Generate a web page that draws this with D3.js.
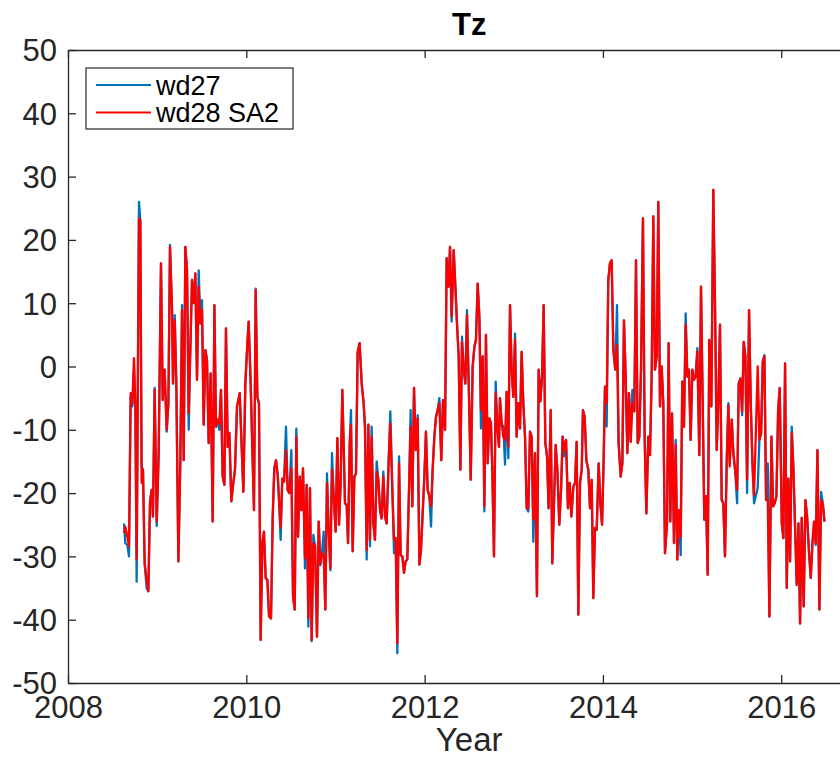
<!DOCTYPE html>
<html>
<head>
<meta charset="utf-8">
<script src="https://cdn.jsdelivr.net/npm/d3@7"></script>
<style>
  html, body { margin: 0; padding: 0; background: #fff; }
  svg { display: block; font-family: "Liberation Sans", Arial, Helvetica, sans-serif; }
</style>
</head>
<body>
<svg id="chart" width="840" height="757"></svg>
<script>
// Sample times (decimal year)
const years = [
  2008.628,2008.643,2008.666,2008.684,2008.703,2008.722,2008.740,2008.755,2008.770,2008.796,
  2008.811,2008.826,2008.841,2008.860,2008.882,2008.901,2008.920,2008.939,2008.953,2008.972,
  2008.995,2009.017,2009.043,2009.062,2009.084,2009.107,2009.126,2009.144,2009.167,2009.178,
  2009.197,2009.215,2009.238,2009.260,2009.279,2009.298,2009.316,2009.335,2009.354,2009.372,
  2009.391,2009.410,2009.428,2009.447,2009.466,2009.484,2009.503,2009.522,2009.541,2009.559,
  2009.578,2009.600,2009.623,2009.642,2009.660,2009.679,2009.698,2009.716,2009.735,2009.754,
  2009.772,2009.791,2009.810,
  2009.832,2009.854,2009.873,2009.896,2009.926,2009.948,2009.967,2009.989,2010.008,2010.026,
  2010.049,2010.068,2010.086,2010.105,2010.124,2010.142,2010.161,2010.180,2010.198,2010.217,
  2010.236,2010.255,2010.277,2010.296,2010.314,2010.333,2010.352,2010.367,2010.385,2010.404,
  2010.423,2010.445,2010.464,2010.483,2010.505,2010.524,2010.543,2010.561,2010.580,2010.599,
  2010.617,2010.636,2010.658,2010.677,2010.696,2010.714,2010.733,2010.752,2010.771,2010.793,
  2010.812,2010.830,2010.849,2010.868,2010.886,2010.905,2010.924,2010.943,2010.961,2010.980,
  2011.002,2011.021,2011.040,2011.058,2011.077,2011.096,2011.107,2011.126,2011.141,2011.160,
  2011.174,2011.193,2011.212,
  2011.230,2011.249,2011.271,2011.294,2011.316,2011.331,2011.350,2011.369,2011.387,2011.406,
  2011.425,2011.443,2011.462,2011.481,2011.500,2011.518,2011.537,2011.556,2011.574,2011.597,
  2011.615,2011.638,2011.657,2011.675,2011.694,2011.713,2011.731,2011.750,2011.769,2011.787,
  2011.806,2011.825,2011.843,2011.862,2011.881,2011.900,2011.922,2011.941,2011.959,2011.978,
  2011.997,2012.015,2012.034,2012.053,2012.072,2012.090,2012.109,2012.128,2012.146,2012.165,
  2012.187,2012.206,2012.229,2012.247,2012.266,2012.285,2012.303,2012.326,2012.345,2012.363,
  2012.382,2012.401,2012.419,2012.438,2012.457,2012.475,2012.498,2012.517,2012.539,2012.558,
  2012.576,2012.595,2012.614,
  2012.632,2012.651,2012.670,2012.688,2012.707,2012.726,2012.744,2012.759,2012.778,2012.797,
  2012.816,2012.834,2012.845,2012.864,2012.883,2012.902,2012.920,2012.939,2012.958,2012.976,
  2012.995,2013.014,2013.032,2013.051,2013.070,2013.088,2013.107,2013.126,2013.145,2013.163,
  2013.182,2013.201,2013.219,2013.238,2013.260,2013.279,2013.298,2013.317,2013.335,2013.354,
  2013.373,2013.391,2013.414,2013.432,2013.451,2013.470,2013.489,2013.511,2013.530,2013.548,
  2013.567,2013.586,2013.608,2013.627,2013.646,2013.668,2013.687,2013.705,2013.724,2013.743,
  2013.762,2013.776,2013.795,2013.814,2013.836,2013.855,2013.874,2013.892,2013.911,2013.930,
  2013.952,2013.971,2013.990,2014.008,2014.023,
  2014.042,2014.060,2014.079,2014.098,2014.117,2014.139,2014.158,2014.176,2014.199,2014.218,
  2014.236,2014.255,2014.274,2014.292,2014.311,2014.330,2014.352,2014.371,2014.390,2014.408,
  2014.427,2014.449,2014.468,2014.487,2014.509,2014.528,2014.547,2014.565,2014.584,2014.603,
  2014.621,2014.640,2014.659,2014.677,2014.696,2014.719,2014.737,2014.756,2014.775,2014.797,
  2014.816,2014.834,2014.853,2014.872,2014.890,2014.909,2014.928,2014.947,2014.965,2014.984,
  2015.003,2015.021,2015.040,2015.059,2015.081,2015.100,2015.119,2015.137,2015.156,2015.175,
  2015.193,2015.216,2015.238,2015.257,2015.276,2015.294,2015.313,2015.332,2015.350,2015.369,
  2015.388,2015.407,
  2015.422,2015.445,2015.463,2015.482,2015.505,2015.523,2015.542,2015.561,2015.579,2015.598,
  2015.617,2015.639,2015.658,2015.677,2015.695,2015.736,2015.755,2015.774,2015.793,2015.811,
  2015.830,2015.849,2015.867,2015.890,2015.908,2015.927,2015.946,2015.965,2015.983,2016.006,
  2016.024,2016.043,2016.062,2016.080,2016.099,2016.118,2016.137,2016.155,2016.174,2016.193,
  2016.211,2016.230,2016.252,2016.271,2016.290,2016.312,2016.331,2016.350,2016.368,2016.387,
  2016.406,2016.428,2016.447,2016.466,2016.485
];

// Tz, wd28 SA2 run
const wd28 = [
  -26.3,-25.3,-26.9,-28.4,-4.2,-5.8,1.3,-5.8,-30.5,23.4,
  23.1,-18.4,-16.3,-31.1,-33.7,-35.5,-21.6,-19.5,-23.7,-3.7,
  -24.5,-14.2,16.3,-5.3,-0.5,-10.0,-5.8,18.9,8.9,-2.7,
  7.3,-2.7,-30.8,-14.8,8.9,-14.8,18.9,15.2,-7.4,2.6,
  13.7,10.0,14.7,-2.1,12.6,6.8,8.9,-9.2,2.6,1.0,
  -12.1,-1.1,-24.5,9.7,-9.5,-8.4,-9.0,-3.7,-17.4,-18.7,
  6.0,-12.7,-10.5,
  -21.3,-18.4,-16.3,-6.3,-4.2,-12.7,-19.8,-2.7,2.6,7.1,
  -2.7,-13.2,-22.7,12.1,-4.8,-5.8,-43.2,-27.9,-26.1,-33.4,
  -33.7,-39.5,-39.8,-23.7,-16.1,-14.8,-17.1,-21.1,-25.5,-17.7,
  -18.2,-13.2,-19.5,-20.0,-16.1,-36.3,-38.4,-11.1,-26.9,-17.4,
  -22.7,-16.1,-30.3,-18.7,-39.8,-19.2,-43.2,-27.9,-28.4,-42.7,
  -24.5,-31.1,-29.5,-30.0,-38.4,-18.4,-25.8,-31.9,-16.3,-20.5,
  -26.1,-11.3,-25.0,-18.4,-3.7,-14.8,-21.6,-21.9,-27.9,-12.1,
  -9.2,-29.2,-17.4,
  -16.9,2.3,3.7,-2.7,-5.8,-9.5,-29.0,-9.2,-27.4,-11.1,
  -24.8,-27.4,-16.6,-17.9,-22.7,-24.0,-17.4,-23.7,-24.8,-14.8,
  -9.0,-19.5,-27.4,-27.1,-43.7,-15.3,-29.8,-30.0,-32.6,-30.8,
  -30.5,-19.5,-9.5,-22.1,-3.4,-13.2,-8.2,-31.3,-29.0,-23.2,
  -17.4,-10.3,-19.5,-20.5,-22.1,-16.3,-11.1,-7.9,-6.9,-5.8,
  -14.8,-5.3,-10.0,17.1,12.6,18.9,7.9,18.4,12.6,6.8,
  1.6,-16.3,3.9,-0.5,-2.7,8.1,-4.8,-17.9,0.0,3.1,
  4.2,13.1,7.9,
  -6.9,1.6,-22.1,5.0,-15.3,-8.2,-9.0,-16.3,-30.0,-4.2,
  -9.5,-12.7,-5.0,-9.0,-11.1,-11.6,-4.0,-12.7,9.7,-0.5,
  -4.8,4.2,-11.1,-5.8,-9.8,2.3,-5.8,-11.1,-22.4,-22.4,
  -10.3,-11.1,-24.2,-13.7,-36.3,-0.5,-5.5,-1.6,9.7,-12.1,
  -14.2,-22.4,-6.9,-31.1,-21.6,-12.4,-16.3,-25.0,-19.5,-11.1,
  -13.2,-11.6,-22.4,-18.4,-23.7,-19.0,-18.4,-11.9,-39.2,-18.4,
  -16.3,-6.9,-7.9,-14.8,-16.3,-22.4,-17.9,-36.6,-25.5,-25.8,
  -15.3,-21.6,-25.0,-14.8,-3.2,
  -5.8,13.7,16.3,16.8,2.6,-0.5,3.4,-12.1,-17.4,-15.3,
  7.3,-1.6,-13.7,-4.2,-11.9,-5.8,-7.1,16.8,-12.1,-11.1,
  -0.5,23.4,-11.1,-23.2,-11.1,-14.0,-1.1,23.7,-0.5,1.6,
  26.0,-6.3,0.0,-5.8,-29.5,-24.8,3.7,-24.5,-7.4,-27.9,
  -12.4,-30.5,-22.7,-26.9,-2.4,-9.5,6.6,-1.6,-0.5,-11.6,
  -0.5,-2.1,-1.6,2.4,-14.0,12.6,-5.8,-24.2,-20.5,-32.9,
  4.2,-6.3,27.9,10.0,-13.2,-5.8,6.6,-21.1,-21.6,-30.0,
  -15.3,-6.1,
  -15.8,-8.4,-13.7,-16.3,-19.5,-2.7,-1.9,-7.1,3.9,1.6,
  -17.9,8.9,-5.8,-15.3,-20.3,0.0,-11.6,-10.5,0.8,1.6,
  -21.1,-21.1,-39.5,-11.1,-22.1,-21.6,-20.5,-6.9,-3.4,-24.8,
  -27.1,0.5,-35.0,-17.7,-30.8,-10.5,-16.3,-25.3,-34.5,-24.8,
  -40.6,-23.9,-37.9,-21.1,-23.7,-29.5,-33.4,-27.9,-24.5,-27.9,
  -13.2,-38.4,-21.1,-21.6,-24.5
];

// Tz, wd27 run
const wd27 = [
  -24.8,-27.9,-28.2,-30.0,-4.8,-6.3,-0.5,-5.8,-34.0,26.0,
  23.1,-15.8,-16.3,-31.1,-35.0,-35.5,-21.1,-19.5,-23.7,-3.4,
  -25.2,-13.0,16.3,-5.3,-0.5,-10.3,-5.8,19.2,8.9,-2.7,
  8.1,-2.7,-30.8,-14.8,9.7,-14.8,18.9,15.2,-10.0,2.6,
  13.7,10.0,14.7,-2.1,15.2,6.8,10.5,-9.2,2.6,1.0,
  -12.1,-1.1,-24.5,9.7,-9.5,-8.4,-10.0,-3.7,-17.4,-18.7,
  6.0,-12.7,-10.5,
  -21.3,-18.4,-16.3,-6.3,-4.2,-12.7,-19.8,-2.7,2.6,7.1,
  -2.7,-13.2,-22.7,12.3,-4.8,-5.8,-43.2,-27.9,-26.1,-33.4,
  -33.7,-39.5,-39.8,-23.7,-16.1,-14.8,-17.1,-21.1,-27.4,-17.7,
  -18.2,-9.5,-19.5,-20.0,-13.2,-36.3,-38.4,-9.8,-26.9,-17.4,
  -22.7,-16.1,-31.9,-18.7,-41.1,-19.2,-43.4,-26.6,-28.4,-42.7,
  -24.5,-31.4,-29.5,-26.1,-38.4,-16.9,-25.8,-32.2,-13.7,-20.5,
  -26.1,-11.3,-25.0,-18.4,-3.7,-14.8,-21.6,-21.9,-27.9,-12.1,
  -6.9,-29.2,-17.4,
  -16.9,2.3,3.7,-2.7,-5.8,-9.5,-30.5,-9.2,-28.4,-9.5,
  -24.8,-27.4,-15.0,-17.9,-22.7,-24.0,-16.6,-23.7,-24.8,-14.8,
  -7.1,-19.5,-29.5,-27.1,-45.3,-14.2,-29.8,-30.0,-32.6,-30.8,
  -30.5,-19.5,-6.9,-22.1,-3.4,-13.2,-7.7,-31.3,-29.0,-23.2,
  -17.4,-10.3,-19.5,-20.5,-25.3,-16.3,-11.1,-7.9,-6.9,-5.0,
  -14.8,-5.3,-10.0,17.1,12.6,18.9,7.1,18.4,12.6,6.8,
  1.6,-16.3,4.7,-0.5,-2.7,8.9,-4.8,-17.9,0.0,3.1,
  4.2,13.1,7.9,
  -9.8,1.6,-22.9,5.0,-15.3,-8.2,-9.0,-16.3,-30.0,-2.4,
  -9.5,-12.7,-5.0,-9.0,-9.5,-15.5,-4.0,-14.5,9.7,-0.5,
  -4.8,5.2,-11.1,-5.8,-9.8,2.3,-5.8,-11.1,-22.4,-22.9,
  -10.3,-11.1,-27.7,-13.7,-36.3,-0.5,-5.5,-1.6,9.7,-12.1,
  -14.2,-22.4,-6.9,-31.1,-21.6,-12.4,-16.3,-25.0,-19.5,-11.1,
  -14.2,-11.6,-22.4,-18.4,-23.7,-19.0,-18.4,-11.9,-39.2,-18.4,
  -16.3,-6.9,-7.9,-14.8,-16.3,-22.4,-17.9,-36.6,-25.5,-25.8,
  -15.3,-21.6,-25.0,-14.8,-3.2,
  -9.5,13.7,16.3,16.8,2.6,-0.5,9.7,-12.1,-17.4,-15.3,
  7.3,-1.6,-13.7,-4.2,-11.9,-3.7,-7.1,16.8,-12.1,-11.1,
  -0.5,23.4,-11.1,-23.2,-11.1,-14.0,-1.1,23.7,-0.5,1.6,
  26.0,-6.3,0.0,-5.8,-29.5,-24.8,3.7,-24.5,-7.4,-27.9,
  -11.6,-30.5,-22.7,-29.8,-2.4,-9.5,8.4,-1.6,-0.5,-11.6,
  -0.5,-2.1,-1.6,2.9,-14.0,12.6,-5.8,-24.2,-20.5,-32.9,
  4.2,-6.3,27.9,10.0,-13.2,-5.8,6.6,-21.1,-21.6,-30.0,
  -15.3,-5.8,
  -15.3,-8.4,-13.7,-16.3,-21.6,-2.7,-1.9,-7.7,3.9,1.6,
  -20.0,8.9,-5.8,-15.3,-21.6,-19.2,-11.6,-10.5,0.8,1.8,
  -21.1,-15.3,-39.5,-11.1,-22.1,-21.6,-20.5,-6.9,-3.4,-24.8,
  -27.1,0.5,-35.0,-17.7,-30.8,-9.5,-16.3,-25.3,-34.5,-24.8,
  -40.6,-23.9,-37.9,-21.1,-23.7,-29.5,-33.4,-27.9,-24.5,-28.2,
  -13.2,-38.4,-19.8,-21.6,-24.5
];

const xTicks = [2008, 2010, 2012, 2014, 2016];
const yTicks = [-50, -40, -30, -20, -10, 0, 10, 20, 30, 40, 50];
const seriesNames = ["wd27", "wd28 SA2"];
const seriesColors = ["#0072BD", "#FF0000"];

const svg = d3.select("#chart");
const margin = { left: 68, top: 50, right: 870.4, bottom: 683 };
const axisColor = "#262626";

const x = d3.scaleLinear().domain([2008, 2017]).range([margin.left, margin.right]);
const y = d3.scaleLinear().domain([-50, 50]).range([margin.bottom, margin.top]);

// data lines (clipped to the axes box)
svg.append("clipPath").attr("id", "plotClip")
  .append("rect")
  .attr("x", margin.left).attr("y", margin.top)
  .attr("width", margin.right - margin.left).attr("height", margin.bottom - margin.top);

const line = d3.line().x((d, i) => x(years[i])).y(d => y(d));
const plot = svg.append("g").attr("clip-path", "url(#plotClip)");
[wd27, wd28].forEach((s, k) => {
  plot.append("path")
    .attr("d", line(s))
    .attr("fill", "none")
    .attr("stroke", seriesColors[k])
    .attr("stroke-width", 2.3)
    .attr("stroke-linejoin", "round");
});

// axes: ticks pointing inward, box on all four sides
const tickLen = 8;
const axisFont = 31;
const plainNum = d => String(d);   // ASCII hyphen for negatives

const bottomAxis = d3.axisBottom(x).tickValues(xTicks).tickFormat(plainNum)
  .tickSizeInner(-tickLen).tickSizeOuter(0).tickPadding(13);
const gx = svg.append("g").attr("transform", `translate(0,${margin.bottom})`).call(bottomAxis);

const leftAxis = d3.axisLeft(y).tickValues(yTicks).tickFormat(plainNum)
  .tickSizeInner(-tickLen).tickSizeOuter(0).tickPadding(11);
const gy = svg.append("g").attr("transform", `translate(${margin.left},0)`).call(leftAxis);

const topAxis = d3.axisTop(x).tickValues(xTicks).tickFormat("")
  .tickSizeInner(-tickLen).tickSizeOuter(0);
const gt = svg.append("g").attr("transform", `translate(0,${margin.top})`).call(topAxis);

const rightAxis = d3.axisRight(y).tickValues(yTicks).tickFormat("")
  .tickSizeInner(-tickLen).tickSizeOuter(0);
const gr = svg.append("g").attr("transform", `translate(${margin.right},0)`).call(rightAxis);

[gx, gy, gt, gr].forEach(g => {
  g.select(".domain").attr("stroke", axisColor).attr("stroke-width", 1.3);
  g.selectAll(".tick line").attr("stroke", axisColor).attr("stroke-width", 1.3);
  g.selectAll(".tick text")
    .attr("fill", axisColor)
    .style("font-size", axisFont + "px")
    .style("font-family", '"Liberation Sans", Arial, Helvetica, sans-serif');
});
gy.selectAll(".tick text").attr("dy", "0.35em");

// axis label and title
svg.append("text")
  .attr("x", (margin.left + margin.right) / 2)
  .attr("y", 751)
  .attr("text-anchor", "middle")
  .attr("fill", axisColor)
  .style("font-size", "33px")
  .text("Year");

svg.append("text")
  .attr("x", (margin.left + margin.right) / 2)
  .attr("y", 35)
  .attr("text-anchor", "middle")
  .attr("fill", "#000")
  .style("font-size", "31px")
  .style("font-weight", "bold")
  .text("Tz");

// legend
const legend = svg.append("g");
legend.append("rect")
  .attr("x", 86).attr("y", 68).attr("width", 207).attr("height", 61)
  .attr("fill", "#fff").attr("stroke", axisColor).attr("stroke-width", 1.2);
seriesNames.forEach((name, i) => {
  const ly = 85 + i * 27.5;
  legend.append("line")
    .attr("x1", 96).attr("x2", 151).attr("y1", ly).attr("y2", ly)
    .attr("stroke", seriesColors[i]).attr("stroke-width", 2);
  legend.append("text")
    .attr("x", 156).attr("y", ly + 9.5)
    .attr("fill", "#000")
    .style("font-size", "27px")
    .text(name);
});
</script>
</body>
</html>
